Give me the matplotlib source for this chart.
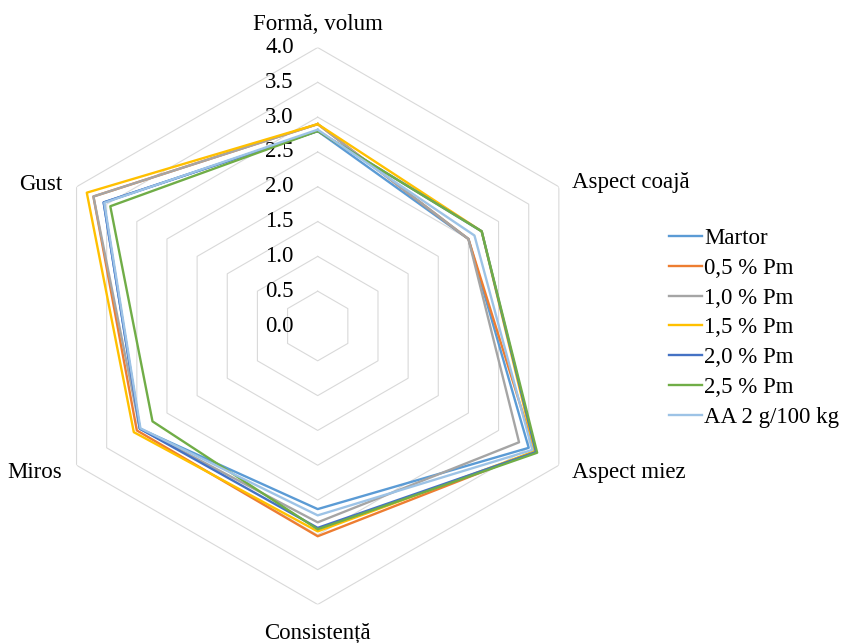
import numpy as np
import matplotlib
matplotlib.use("Agg")
import matplotlib.pyplot as plt

plt.rcParams['font.family'] = ['Liberation Serif', 'DejaVu Serif']

categories = ['Formă, volum', 'Aspect coajă', 'Aspect miez',
              'Consistență', 'Miros', 'Gust']
series_names = ['Martor', '0,5 % Pm', '1,0 % Pm', '1,5 % Pm',
                '2,0 % Pm', '2,5 % Pm', 'AA 2 g/100 kg']
martor = [2.8, 2.5, 3.5, 2.63, 2.95, 3.55]
pm_05 = [2.9, 2.5, 3.6, 3.02, 3.0, 3.72]
pm_10 = [2.9, 2.5, 3.34, 2.82, 2.95, 3.72]
pm_15 = [2.9, 2.72, 3.6, 2.95, 3.05, 3.83]
pm_20 = [2.8, 2.72, 3.62, 2.9, 2.95, 3.55]
pm_25 = [2.8, 2.72, 3.64, 2.92, 2.74, 3.44]
aa = [2.82, 2.6, 3.56, 2.72, 2.94, 3.54]
colors = ['#5B9BD5', '#ED7D31', '#A5A5A5', '#FFC000',
          '#4472C4', '#70AD47', '#9DC3E6']
r_ticks = [0.0, 0.5, 1.0, 1.5, 2.0, 2.5, 3.0, 3.5, 4.0]

FS = 16.5

fig = plt.figure(figsize=(8.49, 6.43), dpi=100)
ax = fig.add_axes([0.0462, 0.0599, 0.656, 0.8662], projection='polar')
ax.set_theta_zero_location('N')
ax.set_theta_direction(-1)
ax.set_ylim(0, 4.0)
ax.grid(False)
ax.spines['polar'].set_visible(False)
ax.set_xticks([])
ax.set_yticks([])

n = len(categories)
theta = np.linspace(0, 2 * np.pi, n, endpoint=False)
theta_closed = np.append(theta, theta[0])

# hexagonal grid rings
for r in r_ticks[1:]:
    ax.plot(theta_closed, [r] * (n + 1), color='#D9D9D9', lw=0.8, zorder=1)

# radial tick labels
for r in r_ticks:
    ax.annotate(f'{r:.1f}', xy=(0, r), xytext=(-24, 0),
                textcoords='offset pixels', ha='right', va='center',
                fontsize=FS, color='#000000')

# category labels
offsets = [(0, 23, 'center'), (13, 4, 'left'), (13, -7, 'left'),
           (0, -28, 'center'), (-14, -7, 'right'), (-14, 2, 'right')]
for t, lab, (dx, dy, ha) in zip(theta, categories, offsets):
    ax.annotate(lab, xy=(t, 4.0), xytext=(dx, dy),
                textcoords='offset pixels', ha=ha, va='center',
                fontsize=FS, annotation_clip=False)

data = [martor, pm_05, pm_10, pm_15, pm_20, pm_25, aa]
for name, vals, c in zip(series_names, data, colors):
    ax.plot(theta_closed, vals + vals[:1], color=c, lw=1.7,
            label=name, zorder=3)

fig.legend(loc='center left', bbox_to_anchor=(0.777, 0.49), frameon=False,
           fontsize=FS, handlelength=1.45, handletextpad=0.1,
           labelspacing=0.38, borderaxespad=0)

fig.savefig('out.png', dpi=100)
